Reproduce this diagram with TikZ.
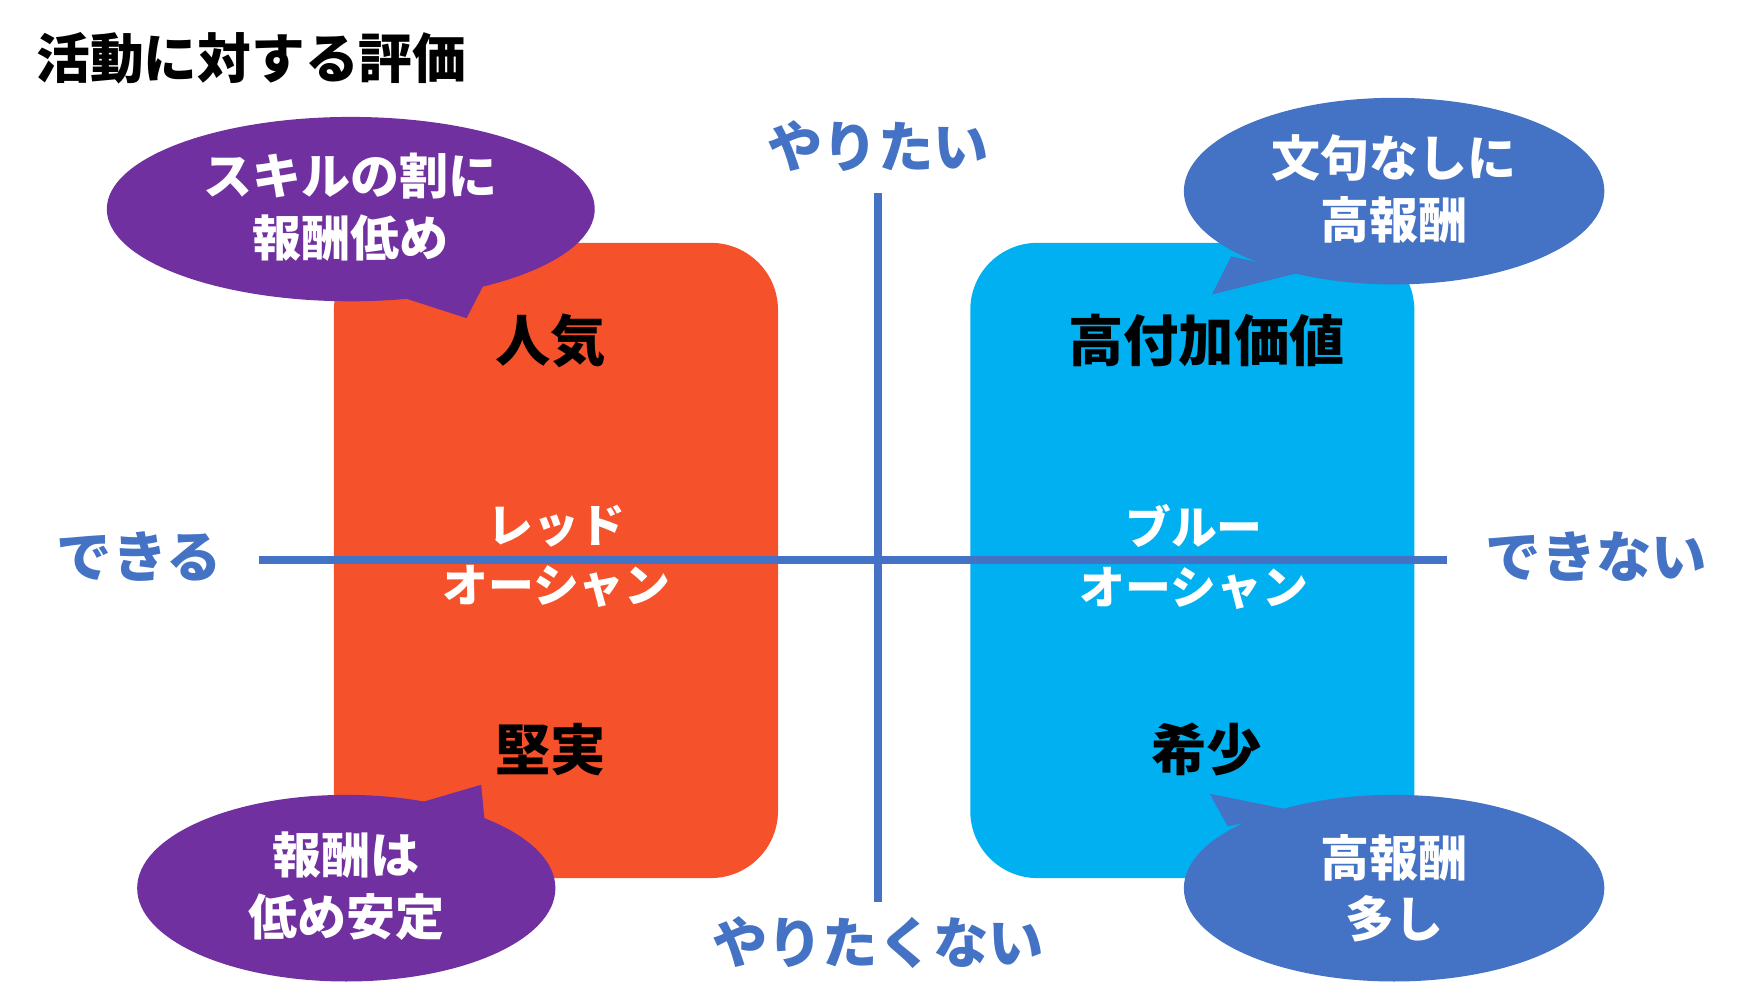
\documentclass[tikz,border=0pt]{standalone}
\usepackage{fontspec}
\setmainfont{Noto Sans CJK JP}
\usetikzlibrary{shapes.geometric}
\definecolor{red1}{HTML}{F5522B}
\definecolor{cyan1}{HTML}{00B0F0}
\definecolor{blue1}{HTML}{4472C4}
\definecolor{purp}{HTML}{7030A0}
\begin{document}
\begin{tikzpicture}[x=0.05cm,y=-0.05cm,
  axis/.style={text=blue1,font=\fontsize{70}{80}\selectfont\bfseries},
  big/.style={text=black,font=\fontsize{70}{80}\selectfont\bfseries},
  ocean/.style={text=white,font=\fontsize{58}{76}\selectfont\bfseries,align=center},
  bub/.style={text=white,font=\fontsize{62}{78}\selectfont\bfseries,align=center},
  box/.style={rounded corners=85pt}]
\useasboundingbox (0,0) rectangle (1561,875);
\node[anchor=west,font=\fontsize{68}{80}\selectfont\bfseries] (title) at (30,52) {活動に対する評価};
\fill[red1,box] (297,216) rectangle (692,781);
\fill[cyan1,box] (863,216) rectangle (1258,781);
\coordinate (vt) at (781,172); \coordinate (vb) at (781,802);
\coordinate (hl) at (230,498); \coordinate (hr) at (1287,498);
\draw[blue1,line width=11pt] (vt) -- (vb);
\draw[blue1,line width=11pt] (hl) -- (hr);
\node[axis] (a1) at (781,130) {やりたい};
\node[axis] (a2) at (781,838) {やりたくない};
\node[axis] (a3) at (124,495) {できる};
\node[axis] (a4) at (1420,495) {できない};
\node[big] (b1) at (490,303) {人気};
\node[big] (b2) at (1073,303) {高付加価値};
\node[big] (b3) at (490,667) {堅実};
\node[big] (b4) at (1073,667) {希少};
\node[ocean] (o1) at (495,495) {レッド\\オーシャン};
\node[ocean] (o2) at (1062,495) {ブルー\\オーシャン};
% bubbles
\fill[purp] (350,262) -- (415,283) -- (432,250) -- cycle;
\fill[purp] (312,186) ellipse [x radius=217,y radius=82];
\node[bub] (t1) at (312,184) {スキルの割に\\報酬低め};
\fill[purp] (370,715) -- (428,698) -- (432,740) -- cycle;
\fill[purp] (308,790) ellipse [x radius=186,y radius=83];
\node[bub] (t2) at (308,788) {報酬は\\低め安定};
\fill[blue1] (1095,228) -- (1078,262) -- (1158,242) -- cycle;
\fill[blue1] (1240,170) ellipse [x radius=187,y radius=83];
\node[bub] (t3) at (1240,168) {文句なしに\\高報酬};
\fill[blue1] (1092,735) -- (1076,706) -- (1155,722) -- cycle;
\fill[blue1] (1240,790) ellipse [x radius=187,y radius=83];
\node[bub] (t4) at (1240,790) {高報酬\\多し};
\end{tikzpicture}
\end{document}
